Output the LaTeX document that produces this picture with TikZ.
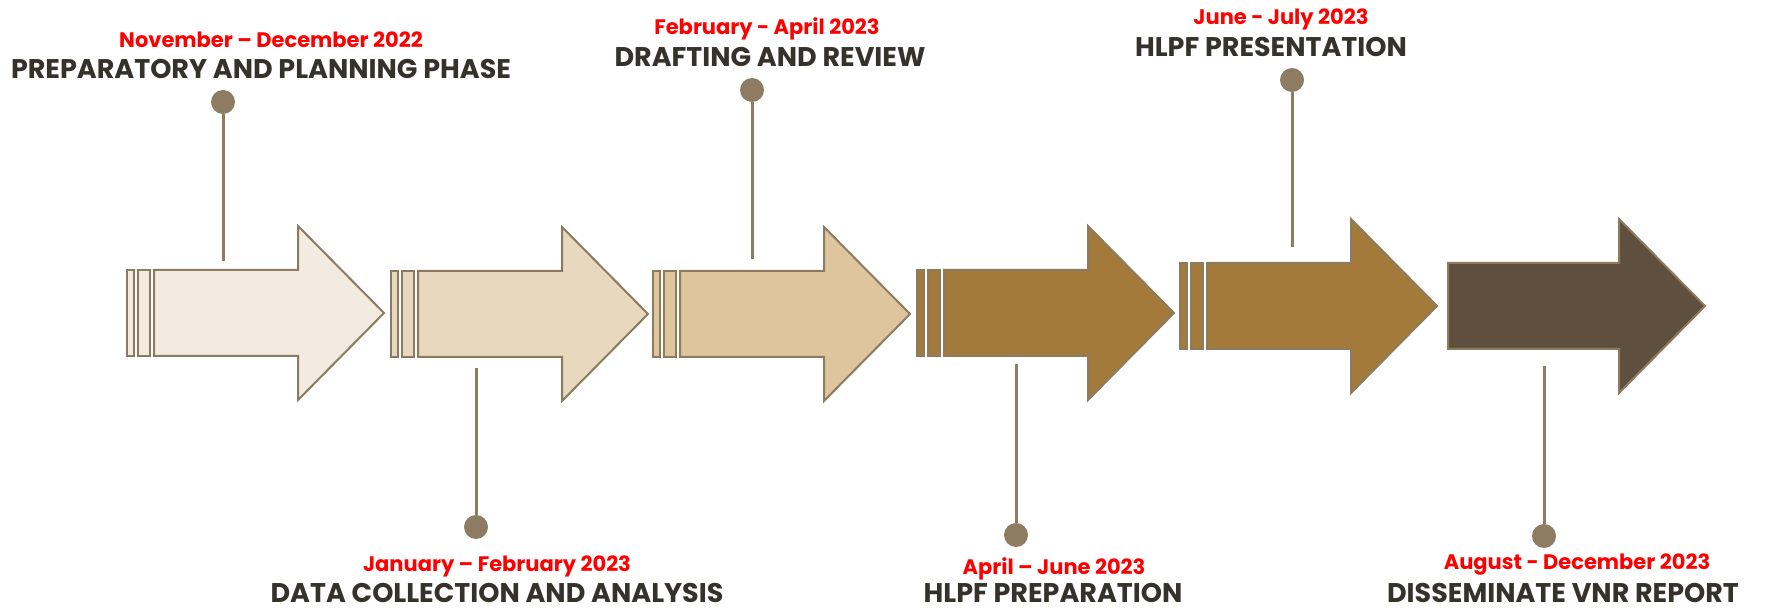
\documentclass[tikz,border=0pt]{standalone}
\usepackage{fontspec}
\setmainfont{Poppins}
\definecolor{edgebrown}{RGB}{141,123,96}
\definecolor{stembrown}{RGB}{142,124,98}
\definecolor{arrowA}{RGB}{243,235,223}
\definecolor{arrowB}{RGB}{232,217,190}
\definecolor{arrowC}{RGB}{222,197,157}
\definecolor{arrowD}{RGB}{163,122,58}
\definecolor{arrowE}{RGB}{95,79,62}
\definecolor{phasegray}{RGB}{53,50,43}
\definecolor{datered}{RGB}{255,0,0}
\begin{document}
\begin{tikzpicture}[x=1pt, y=-1pt, line join=miter,
    arrowline/.style={draw=edgebrown, line width=2pt},
    stem/.style={draw=stembrown, line width=3pt},
    dot/.style={circle, fill=stembrown, minimum size=24pt, inner sep=0pt},
    datetxt/.style={anchor=base, text=datered, font=\bfseries\fontsize{21}{21}\selectfont},
    phasetxt/.style={anchor=base, text=phasegray, font=\bfseries\fontsize{27}{27}\selectfont}]
    \useasboundingbox (0,0) rectangle (1767,609);
    % arrows with two bars in front
    \foreach\x/\y/\c in {127/313/arrowA, 391/314/arrowB, 653/314/arrowC, 917/313/arrowD, 1180/306/arrowD}{
        \draw[arrowline, fill=\c] (\x,\y-43) rectangle (\x+7,\y+43);
        \draw[arrowline, fill=\c] (\x+10.5,\y-43) rectangle (\x+23,\y+43);
        \draw[arrowline, fill=\c] (\x+27,\y-43) -- (\x+171,\y-43) -- (\x+171,\y-87) -- (\x+257,\y)
            -- (\x+171,\y+87) -- (\x+171,\y+43) -- (\x+27,\y+43) -- cycle;
    }
    % last arrow
    \draw[arrowline, fill=arrowE] (1448,263) -- (1619,263) -- (1619,219) -- (1705,306)
        -- (1619,393) -- (1619,349) -- (1448,349) -- cycle;
    % dots and stems
    \node[dot] (d1) at (223,102) {};
    \node[dot] (d2) at (476,527) {};
    \node[dot] (d3) at (752,90) {};
    \node[dot] (d4) at (1016,535) {};
    \node[dot] (d5) at (1292,80) {};
    \node[dot] (d6) at (1544,536) {};
    \coordinate (s1) at (223,261);
    \coordinate (s2) at (476,368);
    \coordinate (s3) at (752,259);
    \coordinate (s4) at (1016,364);
    \coordinate (s5) at (1292,247);
    \coordinate (s6) at (1544,366);
    \foreach\i in {1,...,6}{\draw[stem] (d\i) -- (s\i);}
    % labels
    \node[datetxt] (date1) at (271,48) {November – December 2022};
    \node[phasetxt] (phase1) at (261,79) {PREPARATORY AND PLANNING PHASE};
    \node[datetxt] (date2) at (497,571) {January – February 2023};
    \node[phasetxt] (phase2) at (497,602) {DATA COLLECTION AND ANALYSIS};
    \node[datetxt] (date3) at (767,35) {February - April 2023};
    \node[phasetxt] (phase3) at (770,67) {DRAFTING AND REVIEW};
    \node[datetxt] (date4) at (1054,574) {April – June 2023};
    \node[phasetxt] (phase4) at (1053,602) {HLPF PREPARATION};
    \node[datetxt] (date6) at (1577,569) {August - December 2023};
    \node[phasetxt] (phase6) at (1563,602) {DISSEMINATE VNR REPORT};
    \node[datetxt] (date5) at (1281,25) {June - July 2023};
    \node[phasetxt] (phase5) at (1271,57) {HLPF PRESENTATION};
\end{tikzpicture}
\end{document}
